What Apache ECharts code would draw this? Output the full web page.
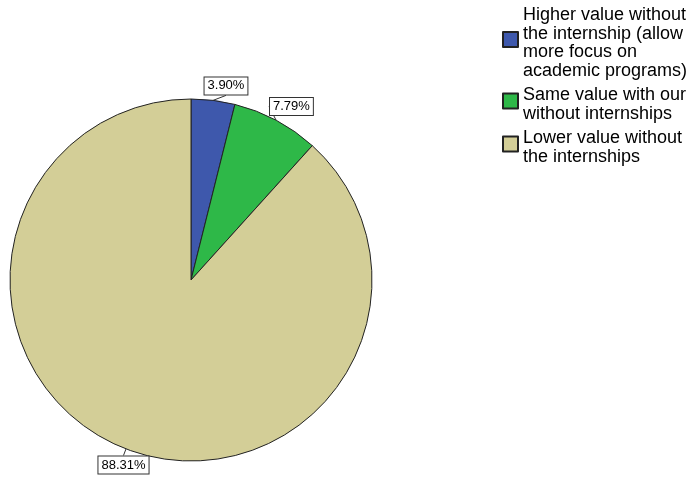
<!DOCTYPE html>
<html>
<head>
<meta charset="utf-8">
<script src="https://cdn.jsdelivr.net/npm/echarts@6/dist/echarts.min.js"></script>
<style>
  html, body { margin: 0; padding: 0; background: #fff; }
  #chart { width: 695px; height: 478px; }
</style>
</head>
<body>
<div id="chart"></div>
<script>
// categories and percentages
var categories = [
  'Higher value without\nthe internship (allow\nmore focus on\nacademic programs)',
  'Same value with our\nwithout internships',
  'Lower value without\nthe internships'
];
var percents = [3.90, 7.79, 88.31];
var colors = ['#3e58ac', '#2eb848', '#d3ce97'];

var myChart = echarts.init(document.getElementById('chart'));

var pieData = categories.map(function (name, i) {
  return { name: name, value: percents[i], itemStyle: { color: colors[i] } };
});

myChart.setOption({
  animation: false,
  legend: {
    orient: 'vertical',
    left: 502,
    top: 6,
    padding: 0,
    itemWidth: 15,
    itemHeight: 22,
    itemGap: 6,
    // square sits in the top part of the icon box so it lands a bit above the text middle
    icon: 'path://M0,0L15,0L15,15L0,15Z M0,22',
    selectedMode: false,
    data: categories,
    textStyle: {
      fontFamily: 'Liberation Sans, Arial, sans-serif',
      fontSize: 18,
      lineHeight: 18.5,
      color: '#000'
    }
  },
  series: [{
    type: 'pie',
    center: [191, 280],
    radius: 181,
    startAngle: 90,
    clockwise: true,
    avoidLabelOverlap: false,
    itemStyle: { borderColor: '#222', borderWidth: 1 },
    emphasis: { disabled: true },
    label: {
      show: true,
      position: 'outside',
      formatter: function (p) { return p.value.toFixed(2) + '%'; },
      fontFamily: 'Liberation Sans, Arial, sans-serif',
      fontSize: 13,
      color: '#000',
      backgroundColor: '#fff',
      borderColor: '#333',
      borderWidth: 1,
      padding: [2, 3, 2, 3]
    },
    labelLine: { show: true, length: 7, length2: 0, lineStyle: { color: '#333', width: 1 } },
    labelLayout: function (p) {
      var pts = p.labelLinePoints;
      if (!pts) return {};
      var end = pts[pts.length - 1];
      var below = end[1] > 280;
      var right = end[0] > 191;
      return {
        x: end[0] + (right && !below ? 12 : 0),
        y: end[1] + (below ? 1 : 1),
        align: 'center',
        verticalAlign: below ? 'top' : 'bottom'
      };
    },
    data: pieData
  }]
});
</script>
</body>
</html>
